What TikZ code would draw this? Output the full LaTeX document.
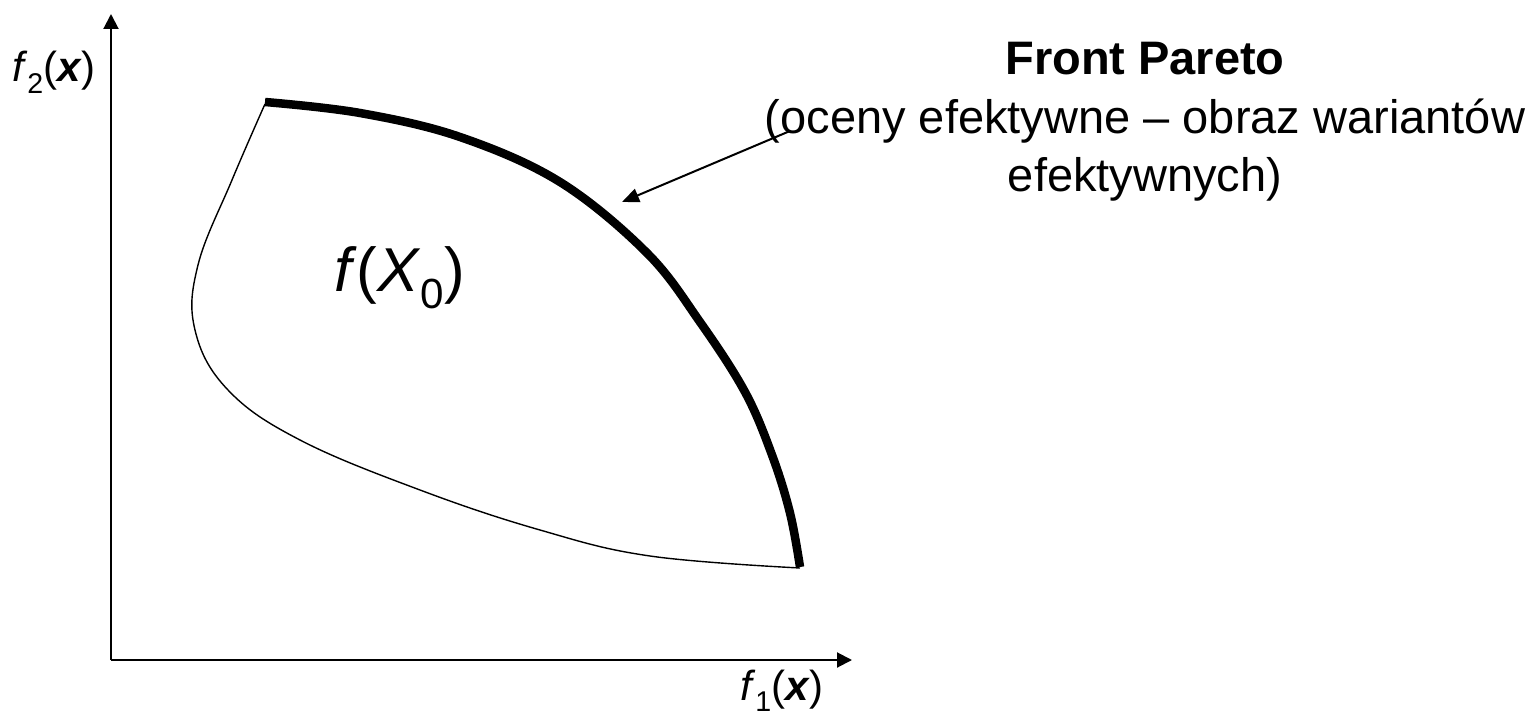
\documentclass[tikz,border=0pt]{standalone}
\usepackage{fontspec}
\usepackage{graphicx}
\setmainfont{Liberation Sans}
\usetikzlibrary{arrows.meta}
\newcommand{\mysub}[1]{\raisebox{-0.28em}{\scalebox{0.68}{#1}}}
\begin{document}
\begin{tikzpicture}[x=1pt,y=-1pt,
  axis/.style={line width=2pt,-{Triangle[length=15pt,width=15pt]}},
  boundary/.style={line width=1.4pt},
  pareto/.style={line width=8.5pt,line cap=butt},
  pointer/.style={line width=2pt,-{Triangle[length=17pt,width=14pt]}},
  axlabel/.style={font=\fontsize{42}{50}\selectfont,inner sep=0pt,anchor=base},
  note/.style={font=\fontsize{47}{56}\selectfont,inner sep=0pt,anchor=base},
  region/.style={font=\fontsize{62}{70}\selectfont,inner sep=0pt,anchor=base west}]
\useasboundingbox (0,0) rectangle (1539,719);
\coordinate (O) at (111,660);
\coordinate (Ytip) at (111,14);
\coordinate (Xtip) at (852,660);
\draw[axis] (O) -- (Ytip);
\draw[axis] (O) -- (Xtip);
\node[axlabel] (f2) at (54,82) {\textit{f}\mysub{2}(\textbf{\textit{x}})};
\node[axlabel] (f1) at (782,700) {\textit{f}\mysub{1}(\textbf{\textit{x}})};
\draw[boundary] plot[smooth,tension=0.65] coordinates {(265,104) (232,180) (198,265) (195,330) (228,390) (300,440) (420,490) (540,530) (650,556) (800,568)};
\draw[pareto] plot[smooth,tension=0.6] coordinates {(265,102) (360,113) (460,137) (560,182) (647,253) (700,322) (745,392) (772,455) (790,513) (800,567)};
\node[region] (fx) at (334,291) {\textit{f}(\textit{X}\mysub{0})};
\node[note,font=\fontsize{47}{56}\selectfont\bfseries] (t1) at (1145,75) {Front Pareto};
\node[note] (t2) at (1145,134) {(oceny efektywne – obraz wariantów};
\node[note] (t3) at (1145,192) {efektywnych)};
\coordinate (a0) at (790,131);
\coordinate (a1) at (622,202);
\draw[pointer] (a0) -- (a1);
\end{tikzpicture}
\end{document}
